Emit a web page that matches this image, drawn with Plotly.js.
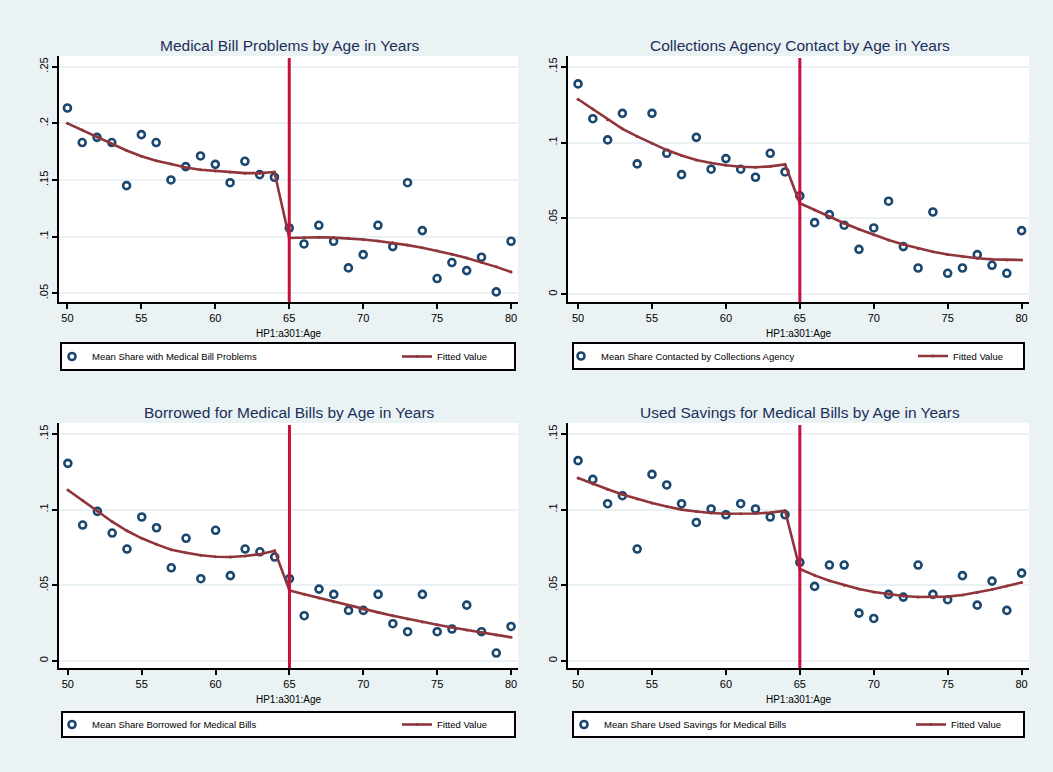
<!DOCTYPE html>
<html>
<head>
<meta charset="utf-8">
<script src="https://cdn.plot.ly/plotly-3.0.1.min.js"></script>
<style>html,body{margin:0;padding:0;background:#eaf2f3;}#chart{width:1053px;height:772px;}</style>
</head>
<body>
<div id="chart"></div>
<script>
// ---- data ----
const ages = [50,51,52,53,54,55,56,57,58,59,60,61,62,63,64,65,66,67,68,69,70,71,72,73,74,75,76,77,78,79,80];
const cutoffAge = 65;

const billMean = [0.2135,0.183,0.1876,0.183,0.145,0.19,0.183,0.15,0.1618,0.1712,0.1638,0.1476,0.1665,0.1547,0.1524,
  0.1076,0.0935,0.11,0.0959,0.0724,0.0841,0.11,0.0912,0.1476,0.1053,0.063,0.0771,0.07,0.0818,0.0512,0.0959];
const billFit = [0.200,0.194,0.188,0.182,0.176,0.171,0.167,0.164,0.161,0.159,0.158,0.157,0.156,0.156,0.157,
  0.0988,0.0993,0.0994,0.0991,0.0985,0.0975,0.0961,0.0945,0.0925,0.0902,0.0875,0.0845,0.0811,0.0774,0.0733,0.0688];

const collMean = [0.1386,0.1157,0.1017,0.1192,0.0859,0.1192,0.0929,0.0788,0.1034,0.0824,0.0894,0.0824,0.0771,0.0929,0.0806,
  0.0648,0.0472,0.0525,0.0455,0.0296,0.0437,0.0613,0.0314,0.0173,0.0542,0.0138,0.0173,0.0261,0.0191,0.0138,0.0419];
const collFit = [0.1285,0.122,0.115,0.109,0.104,0.0995,0.095,0.0915,0.0885,0.0865,0.085,0.084,0.0837,0.0843,0.0855,
  0.060,0.0555,0.051,0.0468,0.0428,0.0392,0.0358,0.0328,0.0302,0.028,0.0262,0.0248,0.0237,0.023,0.0226,0.0226];

const borrMean = [0.1306,0.0898,0.0988,0.0845,0.0739,0.0951,0.088,0.0615,0.081,0.0543,0.0863,0.0563,0.0739,0.0721,0.0686,
  0.0543,0.0298,0.0474,0.0439,0.0333,0.0333,0.0439,0.0245,0.0192,0.0439,0.0192,0.021,0.0368,0.0192,0.0051,0.0227];
const borrFit = [0.113,0.106,0.099,0.092,0.086,0.081,0.077,0.0735,0.0715,0.0698,0.0688,0.0686,0.0693,0.0705,0.0728,
  0.0465,0.044,0.0415,0.039,0.0365,0.034,0.032,0.0298,0.0277,0.0257,0.0238,0.022,0.0203,0.0187,0.0171,0.0155];

const saveMean = [0.1324,0.12,0.1039,0.1092,0.0739,0.1233,0.1163,0.1039,0.0915,0.1004,0.0966,0.1039,0.1004,0.0951,0.0966,
  0.0651,0.0492,0.0633,0.0633,0.0315,0.028,0.0439,0.0421,0.0633,0.0439,0.0404,0.0563,0.0368,0.0527,0.0333,0.058];
const saveFit = [0.1209,0.117,0.1135,0.110,0.107,0.1043,0.102,0.100,0.0988,0.0978,0.0973,0.0972,0.0974,0.098,0.0993,
  0.0607,0.0565,0.053,0.050,0.0475,0.0455,0.044,0.0428,0.0422,0.0421,0.0424,0.0435,0.0451,0.0472,0.0495,0.0518];

const panelTitles = ["Medical Bill Problems by Age in Years","Collections Agency Contact by Age in Years",
  "Borrowed for Medical Bills by Age in Years","Used Savings for Medical Bills by Age in Years"];
const meanNames = ["Mean Share with Medical Bill Problems","Mean Share Contacted by Collections Agency",
  "Mean Share Borrowed for Medical Bills","Mean Share Used Savings for Medical Bills"];
const fitName = "Fitted Value";
const xTitle = "HP1:a301:Age";

const xTickVals = [50,55,60,65,70,75,80];
const xTickText = ["50","55","60","65","70","75","80"];
const yTickVals1 = [0.05,0.1,0.15,0.2,0.25];
const yTickText1 = [".05",".1",".15",".2",".25"];
const yTickVals2 = [0,0.05,0.1,0.15];
const yTickText2 = ["0",".05",".1",".15"];

// ---- styling / layout ----
const W = 1053, H = 772;
const FONT = "Liberation Sans, Arial, sans-serif";
const BG = "#eaf2f3";
const NAVY = "#1a476f";
const MAROON = "#90353b";
const CUTRED = "#c8103c";
const px = v => v / W;
const py = v => 1 - v / H;

const means = [billMean, collMean, borrMean, saveMean];
const fits = [billFit, collFit, borrFit, saveFit];

// plot areas in pixels: [left, right, top, bottom]
const areas = [[59,518,56,302],[568,1029,56,302],[59,518,423,668],[568,1029,423,668]];
const yRanges = [[0.0423,0.2594],[-0.0051,0.157],[-0.0048,0.1573],[-0.0048,0.1573]];
const xRanges = [[49.43,80.47],[49.32,80.5],[49.4,80.47],[49.32,80.5]];
// legend boxes: [left, right, top, bottom]
const legBoxes = [[61,515,343,370],[573,1024,343,369],[62,515,712,737],[573,1024,712,737]];
const legMarkerX = [72,581,72,584];
const legFitTextX = [437,953,437,951];

const data = [];
const layout = {
  width: W, height: H,
  margin: {l:0,r:0,t:0,b:0},
  paper_bgcolor: BG, plot_bgcolor: "#ffffff",
  font: {family: FONT, color: "#000"},
  showlegend: true,
  annotations: [], shapes: []
};

for (let i = 0; i < 4; i++) {
  const sfx = i === 0 ? "" : String(i + 1);
  const a = areas[i];
  const lm = i === 0 ? "legend" : "legend" + (2 * i + 1);
  const lf = "legend" + (2 * i + 2);
  data.push({
    type: "scatter", mode: "markers", x: ages, y: means[i], name: meanNames[i],
    xaxis: "x" + sfx, yaxis: "y" + sfx, legend: lm,
    marker: {symbol: "circle-open", size: 7, color: NAVY, line: {width: 2.6, color: NAVY}},
    cliponaxis: false
  });
  data.push({
    type: "scatter", mode: "lines+markers", x: ages, y: fits[i], name: fitName,
    xaxis: "x" + sfx, yaxis: "y" + sfx, legend: lf,
    line: {color: MAROON, width: 2.6},
    marker: {symbol: "circle", size: 3, color: MAROON}
  });
  const yv = i === 0 ? yTickVals1 : yTickVals2;
  const yt = i === 0 ? yTickText1 : yTickText2;
  layout["xaxis" + sfx] = {
    domain: [px(a[0]), px(a[1])], anchor: "y" + sfx, range: xRanges[i],
    tickmode: "array", tickvals: xTickVals, ticktext: xTickText,
    ticks: "outside", ticklen: 5, tickwidth: 2, tickcolor: "#000",
    showline: true, linecolor: "#000", linewidth: 2, mirror: false,
    showgrid: false, zeroline: false,
    tickfont: {size: 11, family: FONT, color: "#000"},
    title: {text: xTitle, font: {size: 10, family: FONT, color: "#000"}, standoff: 7}
  };
  layout["yaxis" + sfx] = {
    domain: [py(a[3]), py(a[2])], anchor: "x" + sfx, range: yRanges[i],
    tickmode: "array", tickvals: yv, ticktext: yt, tickangle: -90,
    ticks: "outside", ticklen: 5, tickwidth: 2, tickcolor: "#000",
    showline: true, linecolor: "#000", linewidth: 2,
    showgrid: true, gridcolor: BG, gridwidth: 2, zeroline: false,
    tickfont: {size: 11, family: FONT, color: "#000"}
  };
  // panel title
  layout.annotations.push({
    text: panelTitles[i], xref: "paper", yref: "paper",
    x: px((a[0] + a[1]) / 2 + 1), y: py(i < 2 ? 46 : 412),
    xanchor: "center", yanchor: "middle", showarrow: false,
    font: {size: 15.5, family: FONT, color: "#1c2f5a"}
  });
  // cutoff line at 65
  layout.shapes.push({
    type: "line", xref: "x" + sfx, yref: "paper",
    x0: cutoffAge, x1: cutoffAge, y0: py(a[3]), y1: py(a[2] + 2),
    line: {color: CUTRED, width: 3}, layer: "above"
  });
  // legend frame
  const b = legBoxes[i];
  layout.shapes.push({
    type: "rect", xref: "paper", yref: "paper",
    x0: px(b[0]), x1: px(b[1]), y0: py(b[3]), y1: py(b[2]),
    line: {color: "#000", width: 2}, fillcolor: "#ffffff", layer: "below"
  });
  const cy = py((b[2] + b[3]) / 2);
  const legCommon = {
    bgcolor: "rgba(0,0,0,0)", borderwidth: 0, orientation: "v",
    xanchor: "left", yanchor: "middle", y: cy,
    font: {size: 9.5, family: FONT, color: "#000"}, itemclick: false
  };
  layout[lm] = Object.assign({}, legCommon, {x: px(legMarkerX[i] - 20)});
  layout[lf] = Object.assign({}, legCommon, {x: px(legFitTextX[i] - 40)});
}

Plotly.newPlot("chart", data, layout, {staticPlot: true, displayModeBar: false});
</script>
</body>
</html>
